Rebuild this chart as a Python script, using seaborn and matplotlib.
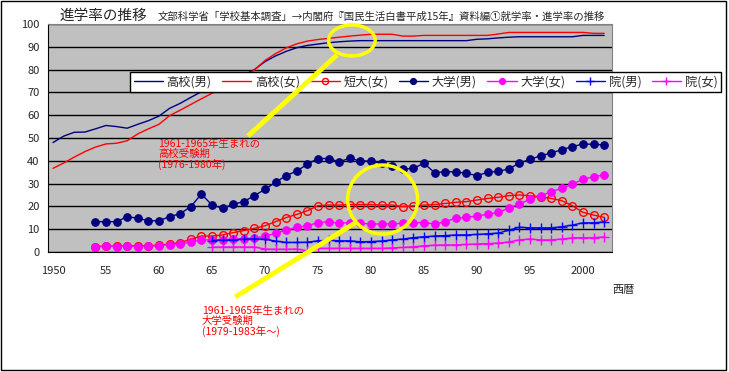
import matplotlib
matplotlib.use("Agg")
import matplotlib.pyplot as plt
import seaborn as sns
from matplotlib.patches import Ellipse, Rectangle

# data
years_hs = list(range(1950, 2003))
hs_male = [48.0, 50.8, 52.5, 52.6, 54.0, 55.5, 55.0, 54.3, 56.0, 57.6,
           59.6, 63.0, 65.2, 67.8, 70.3, 72.0, 73.8, 75.6, 77.6, 80.0,
           83.5, 86.0, 88.0, 89.6, 90.6, 91.2, 91.8, 92.2, 92.5, 92.7,
           92.7, 92.7, 92.7, 92.7, 92.7, 92.7, 92.7, 92.7, 92.7, 92.7,
           93.3, 93.5, 93.9, 94.2, 94.4, 94.4, 94.4, 94.4, 94.4, 94.4,
           95.0, 95.0, 95.0]
hs_female = [36.7, 39.0, 41.6, 44.0, 46.0, 47.4, 47.7, 48.8, 51.8, 54.0,
             56.0, 59.8, 62.2, 64.7, 67.2, 69.6, 72.0, 74.5, 77.0, 79.8,
             84.0, 87.0, 89.5, 91.3, 92.5, 93.2, 93.7, 94.2, 94.7, 95.1,
             95.5, 95.5, 95.5, 94.7, 94.7, 95.0, 95.0, 95.0, 95.0, 95.0,
             95.0, 95.0, 95.6, 96.3, 96.3, 96.3, 96.3, 96.3, 96.3, 96.3,
             96.3, 95.9, 95.9]

years_univ = list(range(1954, 2003))
jc_female = [2.2, 2.6, 2.5, 2.7, 2.6, 2.7, 3.0, 3.5, 4.1, 5.6,
             7.0, 7.0, 7.5, 8.5, 9.4, 10.4, 11.5, 13.3, 15.1, 16.5,
             18.1, 20.3, 20.6, 20.6, 20.8, 20.8, 20.8, 20.6, 20.6, 19.9,
             20.2, 20.6, 20.8, 21.3, 21.8, 22.1, 22.8, 23.5, 24.0, 24.7,
             25.0, 24.7, 24.3, 23.5, 22.5, 20.3, 17.4, 16.2, 15.2]
univ_male = [13.3, 13.3, 13.3, 15.5, 14.8, 13.7, 13.7, 15.5, 16.8, 19.9,
             25.4, 20.6, 19.2, 20.9, 22.1, 24.7, 27.5, 30.6, 33.5, 35.5,
             38.5, 41.0, 41.0, 39.6, 41.1, 39.9, 39.9, 38.9, 37.7, 36.3,
             36.7, 38.9, 34.8, 35.2, 35.2, 34.5, 33.5, 34.9, 35.4, 36.4,
             39.0, 40.6, 42.2, 43.4, 44.9, 46.2, 47.4, 47.2, 47.0]
univ_female = [2.4, 2.6, 2.4, 2.6, 2.4, 2.5, 2.8, 3.2, 3.6, 4.3,
               5.3, 5.3, 5.3, 5.7, 5.8, 6.0, 7.0, 8.2, 9.6, 10.8,
               11.5, 12.9, 13.3, 12.6, 12.9, 12.6, 12.3, 12.3, 12.3, 12.6,
               12.9, 12.9, 12.3, 13.3, 14.8, 15.2, 15.8, 16.5, 17.4, 19.2,
               21.1, 23.1, 24.6, 26.5, 27.9, 29.7, 31.9, 33.0, 33.8]

years_grad = list(range(1965, 2003))
grad_male = [5.0, 5.3, 5.3, 5.6, 5.8, 5.6, 4.8, 4.2, 4.2, 4.3,
             4.9, 5.2, 4.9, 4.9, 4.5, 4.6, 4.8, 5.3, 5.7, 6.3,
             6.7, 7.0, 7.2, 7.5, 7.5, 7.7, 8.0, 8.3, 9.5, 10.9,
             10.6, 10.6, 10.6, 11.1, 11.8, 12.8, 12.8, 13.2]
grad_female = [2.1, 2.2, 2.2, 2.2, 2.2, 1.3, 1.2, 1.2, 1.3, 0.6,
               1.6, 1.6, 1.6, 1.6, 1.6, 1.6, 1.6, 1.8, 2.0, 2.3,
               2.7, 3.0, 3.1, 3.1, 3.3, 3.5, 3.7, 3.9, 4.4, 5.3,
               5.7, 5.3, 5.3, 5.7, 6.2, 6.3, 6.3, 6.6]

x_ticks = list(range(1950, 2001, 5))
x_labels = ["1950", "55", "60", "65", "70", "75", "80", "85", "90", "95", "2000"]

sns.set_style("white")
plt.rcParams['font.family'] = ['Noto Sans CJK JP', 'DejaVu Sans']

W, H = 729, 372
fig = plt.figure(figsize=(W / 100, H / 100), dpi=100)
ax = fig.add_axes([48 / W, 1 - 252 / H, (612 - 48) / W, (252 - 24) / H])
ax.set_facecolor('#C0C0C0')

navy, red, mag, blue = '#000080', '#FF0000', '#FF00FF', '#0000FF'

sns.lineplot(x=years_hs, y=hs_male, ax=ax, color=navy, linewidth=1,
             label='高校(男)', legend=False)
sns.lineplot(x=years_hs, y=hs_female, ax=ax, color=red, linewidth=1,
             label='高校(女)', legend=False)
sns.lineplot(x=years_univ, y=jc_female, ax=ax, color=red, linewidth=1,
             marker='o', markersize=5.5, markerfacecolor='none',
             markeredgecolor=red, markeredgewidth=1, label='短大(女)', legend=False)
sns.lineplot(x=years_univ, y=univ_male, ax=ax, color=navy, linewidth=1,
             marker='o', markersize=5.5, markeredgecolor=navy,
             label='大学(男)', legend=False)
sns.lineplot(x=years_univ, y=univ_female, ax=ax, color=mag, linewidth=1,
             marker='o', markersize=5.5, markeredgecolor=mag,
             label='大学(女)', legend=False)
sns.lineplot(x=years_grad, y=grad_male, ax=ax, color=blue, linewidth=1,
             marker='+', markersize=7, markeredgewidth=1, markeredgecolor=blue,
             label='院(男)', legend=False)
sns.lineplot(x=years_grad, y=grad_female, ax=ax, color=mag, linewidth=1,
             marker='+', markersize=7, markeredgewidth=1, markeredgecolor=mag,
             label='院(女)', legend=False)

ax.set_xlim(1949.53, 2002.74)
ax.set_ylim(0, 100)
ax.set_yticks(range(0, 101, 10))
ax.set_xticks(x_ticks)
ax.set_xticklabels(x_labels)
ax.set_xticks([t - 0.5 for t in x_ticks[1:]], minor=True)
ax.tick_params(axis='x', which='major', length=0, pad=10, labelsize=8)
ax.tick_params(axis='x', which='minor', length=4, direction='inout', color='black')
ax.tick_params(axis='y', length=0, pad=6, labelsize=8)
ax.set_xlabel('')
ax.set_ylabel('')
ax.yaxis.grid(True, color='black', linewidth=1)
ax.xaxis.grid(False)
ax.set_axisbelow(True)
for side in ['left', 'bottom']:
    ax.spines[side].set_color('black')
for side in ['top', 'right']:
    ax.spines[side].set_color('#808080')

handles, labels = ax.get_legend_handles_labels()
leg = ax.legend(handles, labels, loc='upper left', bbox_to_anchor=(130 / W, 1 - 72 / H),
                bbox_transform=fig.transFigure, ncol=7, frameon=True, fancybox=False,
                edgecolor='black', framealpha=1, fontsize=8.8, handlelength=2.4,
                handletextpad=0.3, columnspacing=0.85, borderpad=0.3, borderaxespad=0,
                markerscale=0.8)
leg.get_frame().set_linewidth(1)

# yellow highlight marks
ax.add_patch(Ellipse((1978.2, 92.8), 4.4, 13.6, fill=False, edgecolor='#FFFF00',
                     linewidth=2.5, zorder=6, clip_on=False))
ax.add_patch(Ellipse((1981.1, 23.0), 6.6, 30.3, fill=False, edgecolor='#FFFF00',
                     linewidth=2.5, zorder=6, clip_on=False))
ax.plot([1968.4, 1976.8], [50.9, 86.4], color='#FFFF00', linewidth=3.5,
        zorder=6, clip_on=False, solid_capstyle='butt')
ax.plot([1967.2, 1978.7], [-19.7, 13.3], color='#FFFF00', linewidth=3.5,
        zorder=6, clip_on=False, solid_capstyle='butt')

fig.text(60 / W, 1 - 16 / H, '進学率の推移', fontsize=10.5, va='center', ha='left')
fig.text(158 / W, 1 - 17 / H,
         '文部科学省「学校基本調査」→内閣府『国民生活白書平成15年』資料編①就学率・進学率の推移',
         fontsize=7.5, va='center', ha='left')
fig.text(612 / W, 1 - 290 / H, '西暦', fontsize=8, va='center', ha='left')

fig.text(158 / W, 1 - 139 / H, '1961-1965年生まれの\n高校受験期\n(1976-1980年)',
         fontsize=7.5, color=red, va='top', ha='left', linespacing=0.95)
fig.text(202 / W, 1 - 306 / H, '1961-1965年生まれの\n大学受験期\n(1979-1983年～)',
         fontsize=7.5, color=red, va='top', ha='left', linespacing=0.95)

fig.patches.append(Rectangle((0.5 / W, 1 - 369.5 / H), 725 / W, 369 / H,
                             transform=fig.transFigure, fill=False,
                             edgecolor='black', linewidth=1))

fig.savefig('out.png', dpi=100)
